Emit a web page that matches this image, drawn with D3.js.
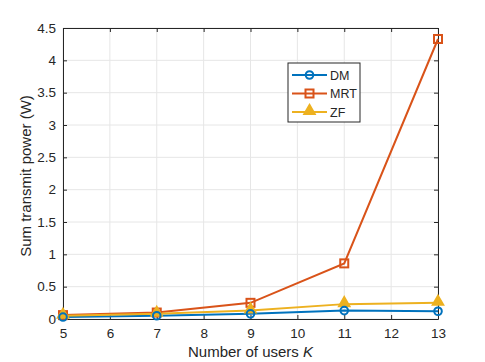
<!DOCTYPE html>
<html>
<head>
<meta charset="utf-8">
<script src="https://cdn.jsdelivr.net/npm/d3@7"></script>
<style>
  body { margin: 0; background: #fff; }
  text { font-family: "Liberation Sans", Arial, sans-serif; fill: #262626; }
</style>
</head>
<body>
<main></main>
<script>
// data
var users = [5, 7, 9, 11, 13];
var dm  = [0.03, 0.05, 0.08, 0.13, 0.12];
var mrt = [0.06, 0.10, 0.25, 0.86, 4.33];
var zf  = [0.05, 0.08, 0.13, 0.23, 0.25];
var xTicks = [5, 6, 7, 8, 9, 10, 11, 12, 13];
var yTicks = [0, 0.5, 1, 1.5, 2, 2.5, 3, 3.5, 4, 4.5];
var names = ["DM", "MRT", "ZF"];

var svg = d3.select("main").append("svg").attr("width", 485).attr("height", 362),
    mLeft = 63, mRight = 438, mTop = 28, mBottom = 319;

var x = d3.scaleLinear().domain([5, 13]).range([mLeft, mRight]);
var y = d3.scaleLinear().domain([0, 4.5]).range([mBottom, mTop]);

var colors = ["#0072BD", "#D95319", "#EDB120"];
var series = [dm, mrt, zf];

// grid
svg.append("g").selectAll("line").data(xTicks).enter().append("line")
    .attr("x1", d => x(d)).attr("x2", d => x(d)).attr("y1", mTop).attr("y2", mBottom)
    .attr("stroke", "#e6e6e6").attr("stroke-width", 1);
svg.append("g").selectAll("line").data(yTicks).enter().append("line")
    .attr("y1", d => y(d)).attr("y2", d => y(d)).attr("x1", mLeft).attr("x2", mRight)
    .attr("stroke", "#e6e6e6").attr("stroke-width", 1);

// axes (ticks inside)
var axisCol = "#262626";
var gx = svg.append("g").attr("transform", "translate(0," + mBottom + ")")
    .call(d3.axisBottom(x).tickValues(xTicks).tickSizeInner(-4).tickSizeOuter(0).tickPadding(9));
var gy = svg.append("g").attr("transform", "translate(" + mLeft + ",0)")
    .call(d3.axisLeft(y).tickValues(yTicks).tickSizeInner(-4).tickSizeOuter(0).tickPadding(7)
      .tickFormat(d3.format("~g")));
var gt = svg.append("g").attr("transform", "translate(0," + mTop + ")")
    .call(d3.axisTop(x).tickValues(xTicks).tickSizeInner(-4).tickSizeOuter(0).tickFormat(""));
var gr = svg.append("g").attr("transform", "translate(" + mRight + ",0)")
    .call(d3.axisRight(y).tickValues(yTicks).tickSizeInner(-4).tickSizeOuter(0).tickFormat(""));
[gx, gy, gt, gr].forEach(function(g){
  g.select(".domain").attr("stroke", axisCol).attr("stroke-width", 1);
  g.selectAll(".tick line").attr("stroke", axisCol);
  g.selectAll(".tick text").attr("fill", axisCol).style("font-size", "13.5px")
    .style("font-family", "'Liberation Sans', Arial, sans-serif");
});

// lines + markers
var line = d3.line().x((d, i) => x(users[i])).y(d => y(d));
series.forEach(function(s, k){
  svg.append("path").datum(s).attr("d", line)
    .attr("fill", "none").attr("stroke", colors[k]).attr("stroke-width", 2);
});

function marker(g, k, cx, cy){
  if (k === 0) {
    g.append("circle").attr("cx", cx).attr("cy", cy).attr("r", 3.8)
      .attr("fill", "none").attr("stroke", colors[k]).attr("stroke-width", 2);
  } else if (k === 1) {
    g.append("rect").attr("x", cx - 4).attr("y", cy - 4).attr("width", 8).attr("height", 8)
      .attr("fill", "none").attr("stroke", colors[k]).attr("stroke-width", 2);
  } else {
    g.append("path").attr("d", d3.symbol().type(d3.symbolTriangle).size(55)())
      .attr("transform", "translate(" + cx + "," + (cy - 1) + ")")
      .attr("fill", colors[k]).attr("stroke", colors[k]).attr("stroke-width", 1.5);
  }
}
var mg = svg.append("g");
[1, 2, 0].forEach(function(k){
  series[k].forEach(function(v, i){ marker(mg, k, x(users[i]), y(v)); });
});

// legend
var lg = svg.append("g").attr("transform", "translate(288,63)");
lg.append("rect").attr("width", 72).attr("height", 59)
  .attr("fill", "#fff").attr("stroke", "#262626").attr("stroke-width", 1);
names.forEach(function(n, k){
  var ly = 12 + k * 18.5;
  lg.append("line").attr("x1", 4).attr("x2", 39).attr("y1", ly).attr("y2", ly)
    .attr("stroke", colors[k]).attr("stroke-width", 2);
  marker(lg, k, 21.5, ly);
  lg.append("text").attr("x", 42).attr("y", ly + 4.5).style("font-size", "12.5px").text(n);
});

// axis labels
var xl = svg.append("text").attr("x", (mLeft + mRight) / 2).attr("y", 357)
  .attr("text-anchor", "middle").style("font-size", "15px");
xl.append("tspan").text("Number of users ");
xl.append("tspan").style("font-style", "italic").text("K");

svg.append("text").attr("transform", "translate(31,176) rotate(-90)")
  .attr("text-anchor", "middle").style("font-size", "15px").text("Sum transmit power (W)");
</script>
</body>
</html>
